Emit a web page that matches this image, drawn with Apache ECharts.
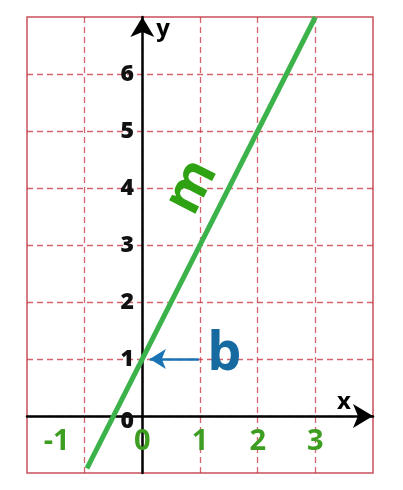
<!DOCTYPE html>
<html>
<head>
<meta charset="utf-8">
<script src="https://cdn.jsdelivr.net/npm/echarts@6/dist/echarts.min.js"></script>
<style>
  html, body { margin: 0; padding: 0; background: #fff; }
  #chart { width: 403px; height: 490px; }
</style>
</head>
<body>
<div id="chart"></div>
<script>
// ---- data ----
var xTicks = [-1, 0, 1, 2, 3];
var yTicks = [0, 1, 2, 3, 4, 5, 6];
var lineX = [-0.96, 3];
var lineY = [-0.92, 7];
var bArrowFrom = [0.98, 1];
var bArrowTo = [0.13, 1];
var slopeLabelAt = [0.86, 4.02];
var interceptLabelAt = [1.42, 1.07];

var GRID_RED = '#c8303f';
var LINE_GREEN = '#3cb34a';
var TEXT_GREEN = '#2fa214';
var TICK_GREEN = '#3d9e22';
var B_BLUE = '#176aa0';
var FONT = "'Open Sans', 'DejaVu Sans', sans-serif";
var NARROW = "'Liberation Sans Narrow', 'Open Sans', sans-serif";

var chart = echarts.init(document.getElementById('chart'));

var option = {
  animation: false,
  backgroundColor: '#fff',
  grid: {
    left: 27, top: 17, width: 346, height: 456,
    outerBoundsMode: 'none',
    show: true, borderColor: '#c9505c', borderWidth: 1.5, backgroundColor: '#fff'
  },
  xAxis: {
    type: 'value', min: -2, max: 4, interval: 1,
    name: 'x', nameLocation: 'end', nameGap: -29,
    nameTextStyle: { color: '#000', fontFamily: FONT, fontWeight: 'bold', fontSize: 24,
      verticalAlign: 'bottom', align: 'center', padding: [0, 0, 2, 0] },
    axisLine: { onZero: true, symbol: ['none', 'arrow'], symbolSize: [18, 20],
      lineStyle: { color: '#000', width: 2.5 } },
    axisTick: { show: false },
    axisLabel: {
      // labels stay at the grid edge, so pull them up under the zero line
      margin: -46, color: TICK_GREEN, fontFamily: NARROW, fontWeight: 'bold', fontSize: 29,
      formatter: function(v) {
        if (xTicks.indexOf(v) < 0) return '';
        if (v === -1) return '{s|-1}';
        return String(v);
      },
      rich: { s: { padding: [0, 56, 0, 0], color: TICK_GREEN, fontFamily: NARROW, fontWeight: 'bold', fontSize: 29 } }
    },
    splitLine: { show: true, showMinLine: false, showMaxLine: false,
      lineStyle: { color: GRID_RED, type: [6, 4], width: 1.3, opacity: 0.75 } }
  },
  yAxis: {
    type: 'value', min: -1, max: 7, interval: 1,
    name: 'y', nameLocation: 'end', nameGap: -24,
    nameTextStyle: { color: '#000', fontFamily: FONT, fontWeight: 'bold', fontSize: 24,
      align: 'left', verticalAlign: 'bottom', padding: [0, 0, 0, 14] },
    axisLine: { onZero: true, symbol: ['none', 'arrow'], symbolSize: [18, 20],
      lineStyle: { color: '#000', width: 2.5 } },
    axisTick: { show: false },
    axisLabel: {
      margin: -107, color: '#111', fontFamily: FONT, fontWeight: 800, fontSize: 23,
      formatter: function(v) {
        if (yTicks.indexOf(v) < 0) return '';
        if (v === 0) return '{z|0}';
        return String(v);
      },
      rich: { z: { padding: [10, 0, 0, 0], color: '#111', fontFamily: FONT, fontWeight: 800, fontSize: 23 } }
    },
    splitLine: { show: true, showMinLine: false, showMaxLine: false,
      lineStyle: { color: GRID_RED, type: [6, 4], width: 1.3, opacity: 0.75 } }
  },
  series: [{
    type: 'line',
    data: lineX.map(function(x, i) { return [x, lineY[i]]; }),
    symbol: 'none',
    lineStyle: { color: LINE_GREEN, width: 5 },
    z: 3,
    markLine: {
      silent: true,
      symbol: ['none', 'arrow'],
      symbolSize: [15, 16],
      label: { show: false },
      lineStyle: { color: '#1a73b5', width: 2.5, type: 'solid' },
      data: [[{ coord: bArrowFrom }, { coord: bArrowTo }]]
    },
    markPoint: {
      silent: true,
      symbol: 'circle', symbolSize: 0,
      data: [
        { coord: slopeLabelAt, label: { show: true, formatter: 'm', rotate: 63,
          color: TEXT_GREEN, fontFamily: FONT, fontWeight: 'bold', fontSize: 54,
          position: 'inside' } },
        { coord: interceptLabelAt, label: { show: true, formatter: 'b',
          color: B_BLUE, fontFamily: FONT, fontWeight: 'bold', fontSize: 54,
          position: 'inside' } }
      ]
    }
  }]
};

chart.setOption(option);
</script>
</body>
</html>
